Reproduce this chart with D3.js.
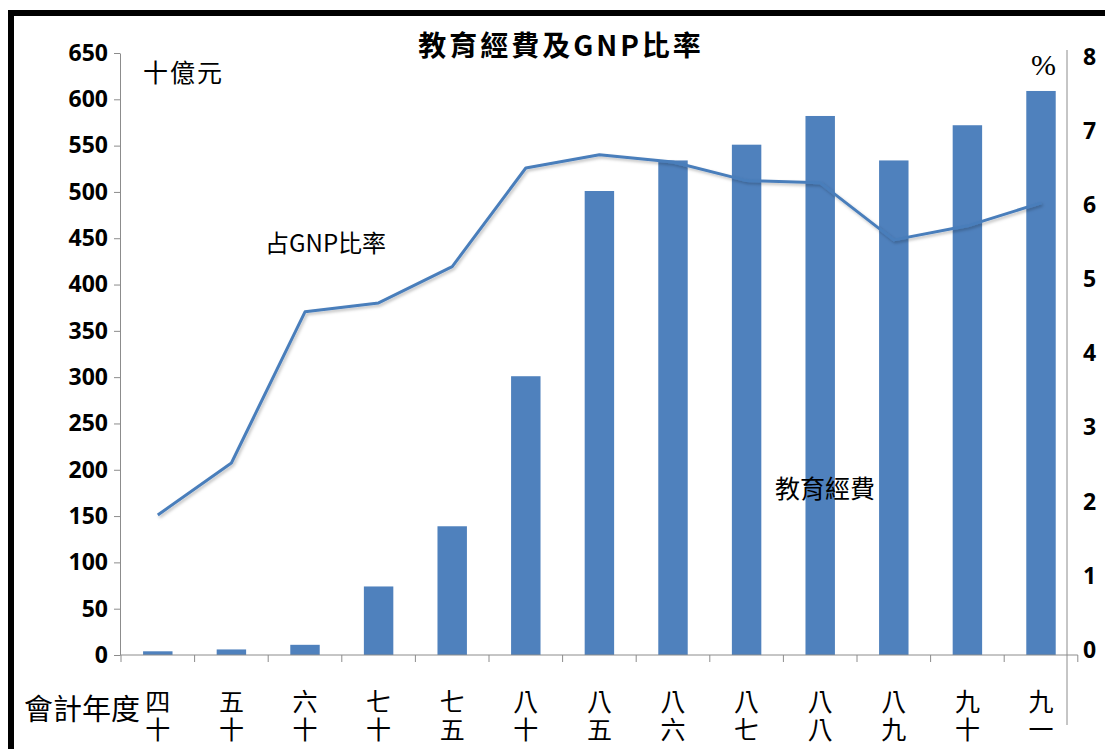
<!DOCTYPE html>
<html>
<head>
<meta charset="utf-8">
<script src="https://cdn.jsdelivr.net/npm/d3@7/dist/d3.min.js"></script>
<style>
  html, body { margin: 0; padding: 0; background: #fff; }
  svg { display: block; }
</style>
</head>
<body>
<script>
// ---- Data ----
const categories = ["四十","五十","六十","七十","七五","八十","八五","八六","八七","八八","八九","九十","九一"];
const funding = [4, 6, 11, 74, 139, 301, 501, 534, 551, 582, 534, 572, 609];       // 十億元
const gnpRatio = [1.89, 2.59, 4.63, 4.75, 5.24, 6.57, 6.75, 6.65, 6.40, 6.37, 5.60, 5.79, 6.10]; // %
const leftTicks = [0, 50, 100, 150, 200, 250, 300, 350, 400, 450, 500, 550, 600, 650];
const rightTicks = [0, 1, 2, 3, 4, 5, 6, 7, 8];
const titleText = "教育經費及GNP比率";

// ---- Layout ----
const W = 1105, H = 749;
const svg = d3.select("body").append("svg").attr("width", W).attr("height", H);

const defs = svg.append("defs");
const f = defs.append("filter").attr("id", "shadow").attr("x", "-5%").attr("y", "-5%").attr("width", "110%").attr("height", "120%");
f.append("feDropShadow").attr("dx", 1.5).attr("dy", 2).attr("stdDeviation", 1.5).attr("flood-color", "#000").attr("flood-opacity", 0.25);

const x = d3.scaleBand().domain(categories).range([121, 1077.8]).paddingInner(0.6).paddingOuter(0.3);
const yL = d3.scaleLinear().domain([0, 650]).range([655, 53]);
const yR = d3.scaleLinear().domain([0, 8]).range([655, 62]);

const numFont = "'Open Sans', 'DejaVu Sans', sans-serif";
const cjkFont = "'Noto Sans CJK TC', 'Noto Sans CJK SC', sans-serif";

// Frame border (top & left visible)
svg.append("path")
  .attr("d", `M11,${H + 10} L11,13 L${W + 10},13`)
  .attr("fill", "none").attr("stroke", "#000").attr("stroke-width", 6);

// Bars
svg.append("g").selectAll("rect").data(funding).join("rect")
  .attr("x", (d, i) => x(categories[i]))
  .attr("width", x.bandwidth())
  .attr("y", d => yL(d))
  .attr("height", d => yL(0) - yL(d))
  .attr("fill", "#4F81BD");

// Left axis
const gL = svg.append("g").attr("transform", "translate(120,0)")
  .call(d3.axisLeft(yL).tickValues(leftTicks).tickSize(6).tickSizeOuter(0).tickPadding(6));
gL.select(".domain").attr("stroke", "#8c8c8c");
gL.selectAll(".tick line").attr("stroke", "#8c8c8c");
gL.selectAll(".tick text").attr("font-family", numFont).attr("font-weight", "bold").attr("font-size", 23).attr("fill", "#000");

// Right axis
const gR = svg.append("g").attr("transform", "translate(1067,0)")
  .call(d3.axisRight(yR).tickValues(rightTicks).tickSize(0).tickSizeOuter(0).tickPadding(16));
gR.select(".domain").attr("d", "M0,50V725").attr("stroke", "#8c8c8c");
gR.selectAll(".tick text").attr("font-family", numFont).attr("font-weight", "bold").attr("font-size", 23).attr("fill", "#000").attr("dy", "0.1em");

// X axis line and boundary ticks
const gX = svg.append("g");
gX.append("line").attr("x1", 120).attr("x2", 1077.8).attr("y1", yL(0)).attr("y2", yL(0)).attr("stroke", "#8c8c8c");
const step = x.step();
const bounds = d3.range(categories.length + 1).map(i => i === categories.length
  ? x(categories[i - 1]) + x.bandwidth() + step * x.paddingOuter()
  : x(categories[i]) - step * x.paddingOuter());
gX.selectAll(".bt").data(bounds).join("line").attr("class", "bt")
  .attr("x1", d => d).attr("x2", d => d).attr("y1", yL(0)).attr("y2", yL(0) + 7).attr("stroke", "#8c8c8c");

// Category labels (vertical writing)
svg.append("g").selectAll("text").data(categories).join("text")
  .attr("x", c => x(c) + x.bandwidth() / 2)
  .attr("y", 689)
  .attr("writing-mode", "vertical-rl")
  .attr("letter-spacing", 3)
  .attr("font-family", cjkFont).attr("font-size", 25).attr("fill", "#000")
  .text(c => c);

// Line
const line = d3.line().x((d, i) => x(categories[i]) + x.bandwidth() / 2).y(d => yR(d));
svg.append("path").datum(gnpRatio).attr("d", line)
  .attr("fill", "none").attr("stroke", "#4A7EBB").attr("stroke-width", 3)
  .attr("stroke-linejoin", "round").attr("filter", "url(#shadow)");

// Title
svg.append("text").attr("x", 561).attr("y", 44).attr("text-anchor", "middle").attr("dominant-baseline", "central")
  .attr("font-family", cjkFont).attr("font-weight", "bold").attr("font-size", 28).attr("letter-spacing", 3)
  .text(titleText);

// Annotations
const ann = svg.append("g").attr("font-family", cjkFont).attr("fill", "#000");
ann.append("text").attr("x", 143).attr("y", 71).attr("dominant-baseline", "central").attr("font-size", 25).attr("letter-spacing", 2).text("十億元");
ann.append("text").attr("x", 265).attr("y", 241).attr("dominant-baseline", "central").attr("font-size", 24).text("占GNP比率");
ann.append("text").attr("x", 775).attr("y", 487).attr("dominant-baseline", "central").attr("font-size", 25).text("教育經費");
ann.append("text").attr("x", 24).attr("y", 707).attr("dominant-baseline", "central").attr("font-size", 29).text("會計年度");
svg.append("text").attr("x", 1031).attr("y", 64).attr("dominant-baseline", "central")
  .attr("font-family", "'Liberation Serif', serif").attr("font-size", 30).text("%");
</script>
</body>
</html>
